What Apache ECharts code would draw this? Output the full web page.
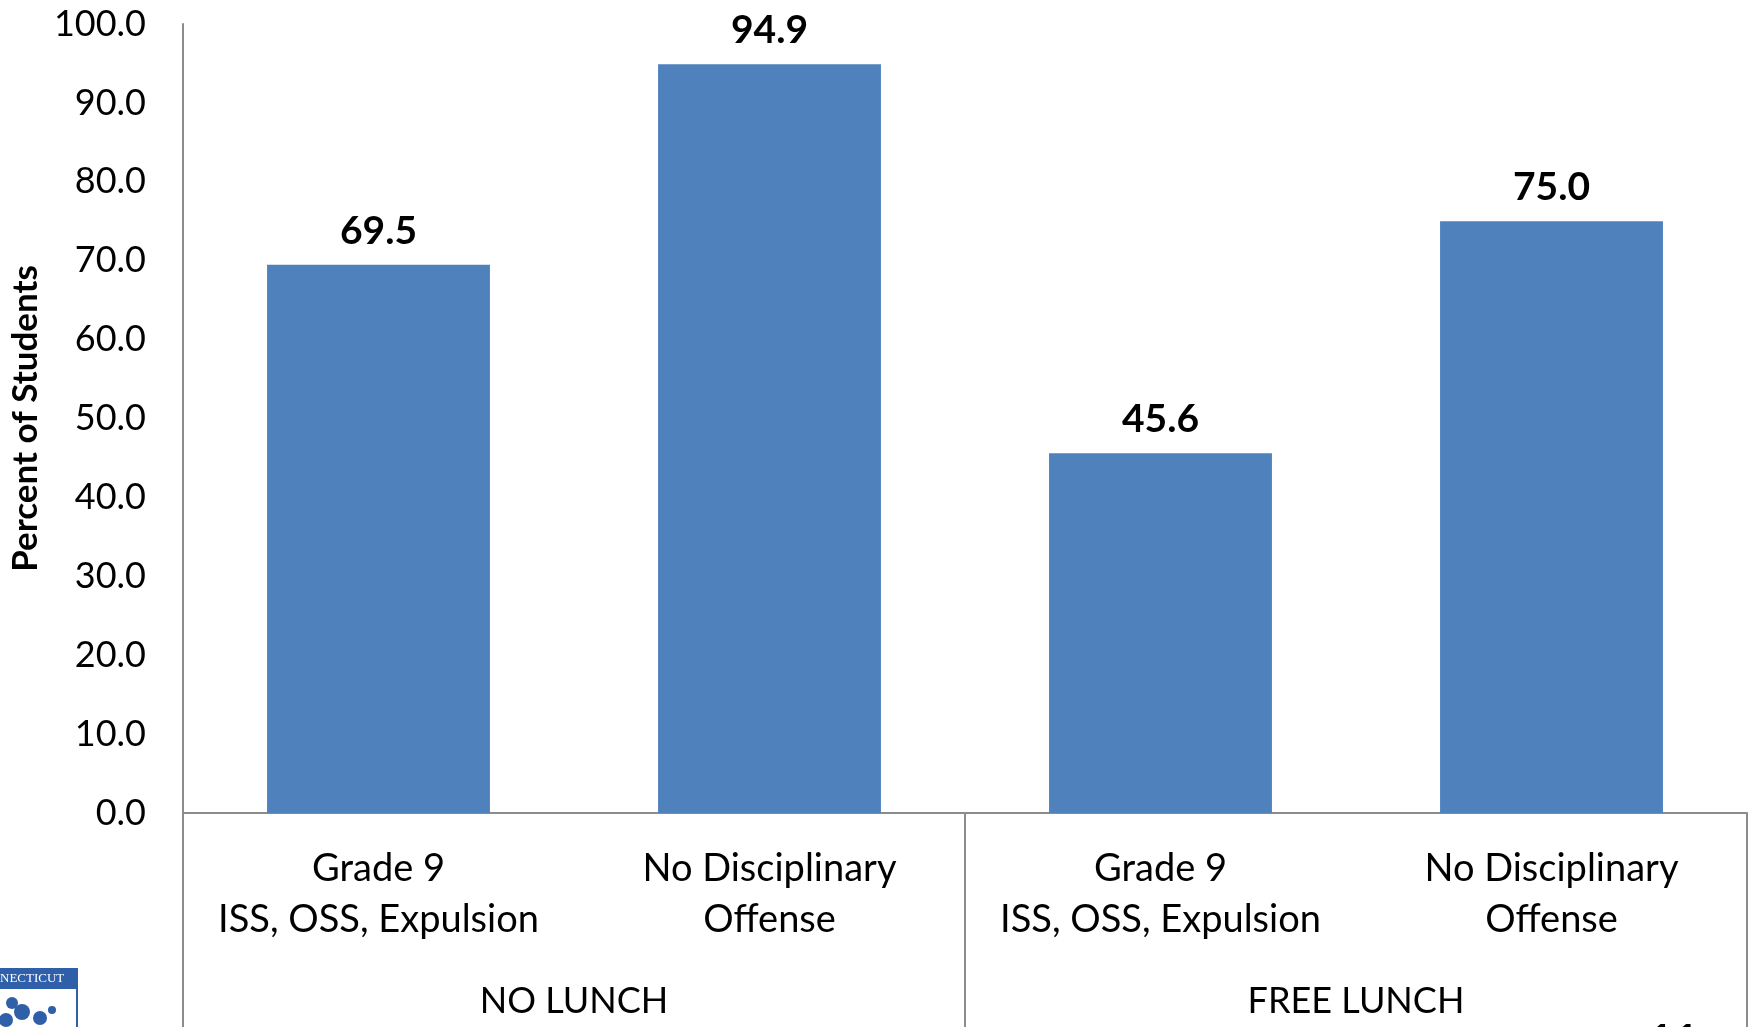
<!DOCTYPE html>
<html>
<head>
<meta charset="utf-8">
<script src="https://cdn.jsdelivr.net/npm/echarts@6/dist/echarts.min.js"></script>
<style>
html,body{margin:0;padding:0;background:#fff;}
#chart{width:1748px;height:1027px;}
</style>
</head>
<body>
<div id="chart"></div>
<script>
var categories = ['Grade 9\nISS, OSS, Expulsion', 'No Disciplinary\nOffense', 'Grade 9\nISS, OSS, Expulsion', 'No Disciplinary\nOffense'];
var groups = ['NO LUNCH', 'FREE LUNCH'];
var values = [69.5, 94.9, 45.6, 75.0];
var yTitle = 'Percent of Students';

var FONT = 'Lato';
var chart = echarts.init(document.getElementById('chart'));
chart.setOption({
  animation: false,
  backgroundColor: '#ffffff',
  grid: {left: 183, right: 1, top: 24, bottom: 212, containLabel: false},
  xAxis: [{
    type: 'category',
    data: categories,
    position: 'bottom',
    axisLine: {show: true, lineStyle: {color: '#8c8c8c', width: 2}},
    axisTick: {show: false},
    axisLabel: {fontFamily: FONT, fontSize: 38, color: '#000', lineHeight: 51, margin: 30, interval: 0}
  }, {
    type: 'category',
    data: groups,
    position: 'bottom',
    axisLine: {show: false},
    axisTick: {show: true, length: 230, interval: 0, lineStyle: {color: '#8c8c8c', width: 2}},
    axisLabel: {fontFamily: FONT, fontSize: 36, color: '#000', lineHeight: 51, margin: 163, interval: 0}
  }],
  yAxis: {
    type: 'value',
    min: 0, max: 100, interval: 10,
    name: yTitle,
    nameLocation: 'middle',
    nameGap: 140,
    nameRotate: 90,
    nameTextStyle: {fontFamily: FONT, fontSize: 35, fontWeight: 'bold', color: '#000'},
    axisLine: {show: true, lineStyle: {color: '#8c8c8c', width: 2}},
    axisTick: {show: false},
    splitLine: {show: false},
    axisLabel: {fontFamily: FONT, fontSize: 36, color: '#000', margin: 37,
      formatter: function (v) { return v.toFixed(1); }}
  },
  series: [{
    type: 'bar',
    data: values,
    barCategoryGap: '43%',
    itemStyle: {color: '#4f81bd'},
    label: {show: true, position: 'top', distance: 14, fontFamily: FONT, fontSize: 39, fontWeight: 'bold', color: '#000',
      formatter: function (p) { return p.value.toFixed(1); }}
  }],
  graphic: [
    {type: 'rect', shape: {x: -20, y: 969, width: 97, height: 80}, style: {fill: '#ffffff', stroke: '#2f5fa8', lineWidth: 2}},
    {type: 'rect', shape: {x: -20, y: 970, width: 96, height: 19}, style: {fill: '#2f5fa8'}},
    {type: 'text', left: 0, top: 972, style: {text: 'NECTICUT', font: '13px "Liberation Serif"', fill: '#ffffff'}},
    {type: 'circle', shape: {cx: 12, cy: 1003, r: 6}, style: {fill: '#2f5fa8'}},
    {type: 'circle', shape: {cx: 22, cy: 1012, r: 8}, style: {fill: '#2f5fa8'}},
    {type: 'circle', shape: {cx: 40, cy: 1018, r: 7}, style: {fill: '#2f5fa8'}},
    {type: 'circle', shape: {cx: 6, cy: 1020, r: 7}, style: {fill: '#2f5fa8'}},
    {type: 'circle', shape: {cx: 52, cy: 1010, r: 4}, style: {fill: '#2f5fa8'}},
    {type: 'text', left: 1648, top: 1020, style: {text: '11', font: 'bold 44px Lato', fill: '#000'}}
  ]
});
</script>
</body>
</html>
